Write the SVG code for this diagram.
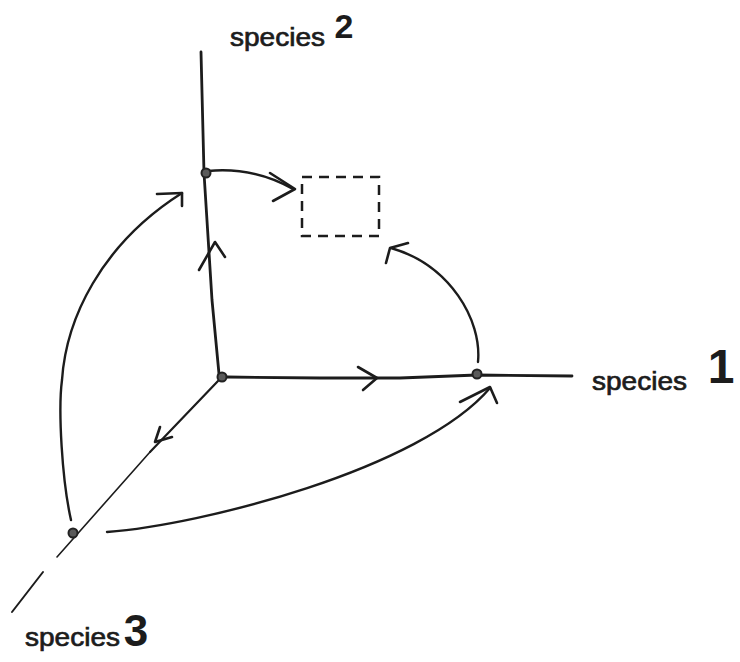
<svg xmlns="http://www.w3.org/2000/svg" width="740" height="662" viewBox="0 0 740 662">
<style>
.ln{fill:none;stroke:#1c1c1c;stroke-linecap:round;stroke-linejoin:round}
.ax{stroke-width:2.8}
.arc{stroke-width:2.4}
.chev{stroke-width:2.6}
.nd{fill:#5a5a5a;stroke:#222;stroke-width:2}
.lbl{font-family:"Liberation Sans","DejaVu Sans",sans-serif;fill:#1c1c1c;stroke:#1c1c1c;stroke-width:0.7;font-size:26px}
.num{font-family:"Liberation Sans","DejaVu Sans",sans-serif;fill:#1c1c1c;font-weight:bold;text-anchor:middle}
</style>
<rect width="740" height="662" fill="#ffffff"/>
<g id="axes">
  <polyline class="ln ax" points="201,52 204,173 212,300 219,374"/>
  <polyline class="ln ax" points="227,377 320,378 400,378 477,375 572,376"/>
  <polyline class="ln" stroke-width="2.2" points="218,381 150,452"/>
  <polyline class="ln" stroke-width="1.6" points="150,452 57,557"/>
  <line class="ln" stroke-width="2" x1="43" y1="572" x2="12" y2="612"/>
</g>
<g id="connectors">
  <path class="ln arc" d="M208,171 C240,168 270,176 293,189"/>
  <polyline class="ln chev" points="270,173 295,189 273,201"/>
  <path class="ln arc" d="M478,362 C482,320 450,265 391,248"/>
  <polyline class="ln chev" points="408,243 390,248 386,263"/>
  <path class="ln arc" d="M71,520 C62,480 58,410 62,380 C66,320 100,245 182,193"/>
  <polyline class="ln chev" points="157,194 182,193 182,206"/>
  <path class="ln arc" d="M107,532 C200,525 420,470 490,388"/>
  <polyline class="ln chev" points="460,402 490,387 497,403"/>
  <polyline class="ln chev" points="199,270 215,242 225,257"/>
  <polyline class="ln chev" points="358,367 377,378 363,390"/>
  <polyline class="ln chev" stroke-width="2.2" points="160,427 155,442 172,437"/>
</g>
<g id="node-origin"><circle class="nd" cx="222" cy="377" r="4.5"/></g>
<g id="node-species2"><circle class="nd" cx="206" cy="173" r="4.5"/></g>
<g id="node-species1"><circle class="nd" cx="477" cy="374" r="4.5"/></g>
<g id="node-species3"><circle class="nd" cx="73" cy="533" r="4.5"/></g>
<g id="node-box"><rect x="302" y="177" width="77" height="59" fill="none" stroke="#1c1c1c" stroke-width="2.5" stroke-dasharray="10 7"/></g>
<g id="label-species2">
  <text class="lbl" x="230" y="46" textLength="95" lengthAdjust="spacingAndGlyphs">species</text>
  <text class="num" x="344" y="38" font-size="34">2</text>
</g>
<g id="label-species1">
  <text class="lbl" x="592" y="390" textLength="95" lengthAdjust="spacingAndGlyphs">species</text>
  <text class="num" x="721" y="383" font-size="48">1</text>
</g>
<g id="label-species3">
  <text class="lbl" x="25" y="646" textLength="95" lengthAdjust="spacingAndGlyphs">species</text>
  <text class="num" x="136" y="646" font-size="44">3</text>
</g>
</svg>
